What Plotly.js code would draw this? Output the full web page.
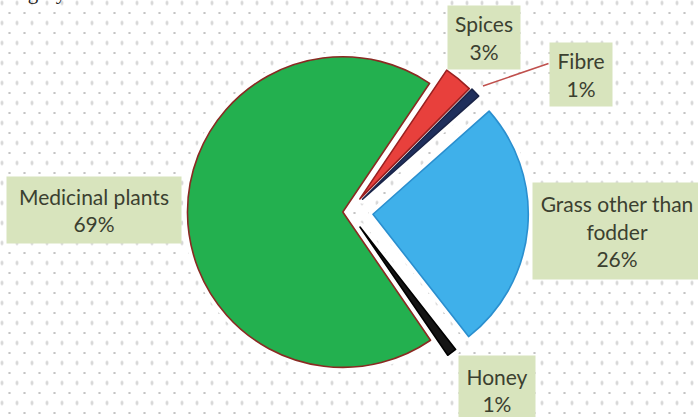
<!DOCTYPE html>
<html>
<head>
<meta charset="utf-8">
<script src="https://cdn.plot.ly/plotly-3.0.1.min.js"></script>
<style>
html,body{margin:0;padding:0;background:#fff;}
#chart{width:698px;height:417px;
  background-color:#fff;
  background-image:radial-gradient(circle, #c4c4c4 0.9px, rgba(255,255,255,0) 1.4px),
                   radial-gradient(ellipse 1px 2.2px, #cfcfcf 0.8px, rgba(255,255,255,0) 1.4px);
  background-size:15px 20px, 15px 20px;
  background-position:2px 3px, 9.5px 13px;}
</style>
</head>
<body>
<div id="chart"></div>
<script>
// Data (clockwise order starting from Spices)
var categories = ['Spices', 'Fibre', 'Grass other than fodder', 'Honey', 'Medicinal plants'];
var labelLines = ['Spices', 'Fibre', 'Grass other than<br>fodder', 'Honey', 'Medicinal plants'];
var values = [3, 1, 26, 1, 69];

var colors = ['#e8403c', '#1f2f5c', '#3fb0ea', '#141414', '#23b04f'];
var lineColors = ['#9a2020', '#1a2448', '#2a8fcf', '#000000', '#8a2a22'];
var pulls = [0.11, 0.12, 0.155, 0.12, 0.04];

var domain = {x: [0.243, 0.757], y: [0.058, 0.925]};

var halo = {
  type: 'pie', values: values, labels: categories, sort: false,
  direction: 'clockwise', rotation: 34, pull: pulls, domain: domain,
  marker: {colors: values.map(function(){return '#ffffff';}), line: {color: '#ffffff', width: 9}},
  textinfo: 'none', hoverinfo: 'skip', showlegend: false
};
var main = {
  type: 'pie', values: values, labels: categories, sort: false,
  direction: 'clockwise', rotation: 34, pull: pulls, domain: domain,
  marker: {colors: colors, line: {color: lineColors, width: 1.6}},
  textinfo: 'none', showlegend: false
};

var font = {family: 'Lato, "Open Sans", sans-serif', size: 21, color: '#3b4030'};
var boxBg = '#d8e4bd';
function lab(i) { return labelLines[i] + '<br>' + values[i] + '%'; }

var annotations = [
  {text: lab(4), x: 94/698, y: 1 - 210/417, width: 174, height: 66},
  {text: lab(0), x: 484/698, y: 1 - 37/417, width: 72, height: 63},
  {text: lab(1), x: 581/698, y: 1 - 74/417, width: 62, height: 63},
  {text: lab(2), x: 617/698, y: 1 - 231/417, width: 168, height: 96},
  {text: lab(3), x: 497/698, y: 1 - 390/417, width: 76, height: 68}
].map(function(a){
  return Object.assign({xref: 'paper', yref: 'paper', xanchor: 'center', yanchor: 'middle',
    showarrow: false, bgcolor: boxBg, font: font, align: 'center', borderpad: 0}, a);
});
// leader line for Fibre
annotations.push({xref: 'paper', yref: 'paper', x: 483/698, y: 1 - 86/417, ax: 550/698, ay: 1 - 63/417,
  axref: 'paper', ayref: 'paper', text: '', showarrow: true, arrowhead: 0, arrowwidth: 1.5, arrowcolor: '#c0504d'});
// cut-off text from the page above
annotations.push({xref: 'paper', yref: 'paper', x: -0.012, y: 1, xanchor: 'left', yanchor: 'bottom', yshift: -6,
  text: 'category', showarrow: false, font: {family: '"Liberation Serif", serif', size: 21, color: '#222'}});

var layout = {
  width: 698, height: 417,
  margin: {l: 0, r: 0, t: 0, b: 0},
  paper_bgcolor: 'rgba(0,0,0,0)', plot_bgcolor: 'rgba(0,0,0,0)',
  showlegend: false,
  annotations: annotations
};
Plotly.newPlot('chart', [halo, main], layout, {displayModeBar: false, staticPlot: true});
</script>
</body>
</html>
